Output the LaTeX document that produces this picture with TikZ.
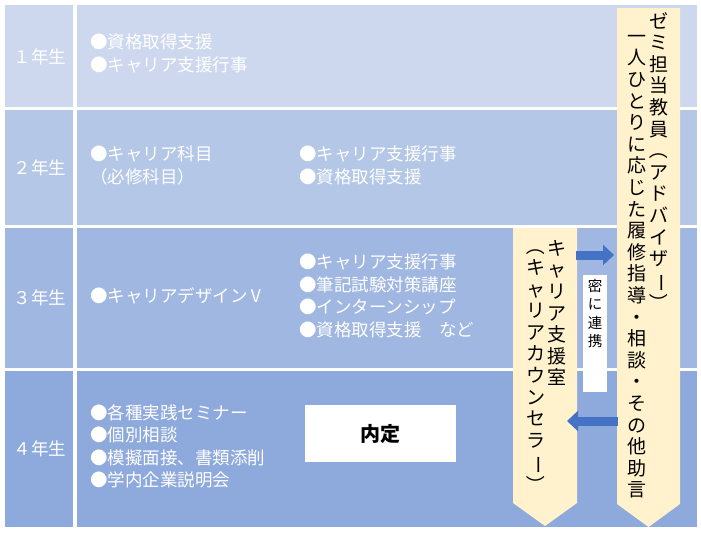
\documentclass[tikz,border=0pt]{standalone}
\usepackage{fontspec}
\setmainfont{Noto Sans CJK JP}
\newcommand{\vp}{\rotatebox[origin=c]{-90}{（}}
\newcommand{\vq}{\rotatebox[origin=c]{-90}{）}}
\newcommand{\vb}{\rotatebox[origin=c]{-90}{ー}}
\tikzset{
  lab/.style={text=white,font=\fontsize{17.5}{22.5}\selectfont,anchor=north west,align=left,inner sep=0pt},
  yr/.style={text=white,font=\fontsize{17.5}{20}\selectfont},
  vtext/.style={font=\fontsize{19}{21.6}\selectfont,align=center,anchor=north,inner sep=0pt,text width=20pt},
  barrow/.style={draw=arrc,line width=9pt,-{Triangle[length=11pt,width=20pt]}},
}
\usetikzlibrary{arrows.meta}
\definecolor{r1}{HTML}{CDD8EF}
\definecolor{r2}{HTML}{B4C7E7}
\definecolor{r3}{HTML}{A0B7E1}
\definecolor{r4}{HTML}{8EA9DB}
\definecolor{bannerc}{HTML}{FFF2CC}
\definecolor{arrc}{HTML}{4472C4}
\begin{document}\begin{tikzpicture}[x=1pt,y=-1pt]
\useasboundingbox (0,0) rectangle (701,533);
\fill[white] (0,0) rectangle (701,533);
\fill[r1] (5,5) rectangle (73,107); \fill[r1] (77,5) rectangle (697,107);
\fill[r2] (5,110) rectangle (73,225); \fill[r2] (77,110) rectangle (697,225);
\fill[r3] (5,228) rectangle (73,368); \fill[r3] (77,228) rectangle (697,368);
\fill[r4] (5,371) rectangle (73,527); \fill[r4] (77,371) rectangle (697,527);
\node[yr] (y1) at (40,57) {１年生};
\node[yr] (y2) at (40,168) {２年生};
\node[yr] (y3) at (40,298) {３年生};
\node[yr] (y4) at (40,449) {４年生};
\node[lab] (t1) at (90,34) {●資格取得支援\\●キャリア支援行事};
\node[lab] (t2) at (90,146) {●キャリア科目\\（必修科目）};
\node[lab] (t2b) at (299,146) {●キャリア支援行事\\●資格取得支援};
\node[lab] (t3) at (90,287) {●キャリアデザインⅤ};
\node[lab] (t3b) at (299,254) {●キャリア支援行事\\●筆記試験対策講座\\●インターンシップ\\●資格取得支援　など};
\node[lab] (t4) at (90,404) {●各種実践セミナー\\●個別相談\\●模擬面接、書類添削\\●学内企業説明会};
\node[fill=white,minimum width=151pt,minimum height=57pt,font=\fontsize{20}{22}\selectfont\bfseries] (nai) at (380.5,433.5) {内定};
\fill[bannerc] (513,228) -- (577,228) -- (577,503) -- (545,526) -- (513,503) -- cycle;
\fill[bannerc] (617,8) -- (680,8) -- (680,504) -- (648.5,527) -- (617,504) -- cycle;
\node[vtext] (c1) at (659,12) {ゼ\\ミ\\担\\当\\教\\員\\\vp\\ア\\ド\\バ\\イ\\ザ\\\vb\\\vq};
\node[vtext] (c2) at (637,35) {一\\人\\ひ\\と\\り\\に\\応\\じ\\た\\履\\修\\指\\導\\・\\相\\談\\・\\そ\\の\\他\\助\\言};
\node[vtext] (k1) at (557,240) {キ\\ャ\\リ\\ア\\支\\援\\室};
\node[vtext] (k2) at (536,236) {\vp\\キ\\ャ\\リ\\ア\\カ\\ウ\\ン\\セ\\ラ\\\vb\\\vq};
\coordinate (a1s) at (576,255); \coordinate (a1e) at (614,255);
\coordinate (a2s) at (618,421); \coordinate (a2e) at (567,421);
\draw[barrow] (a1s) -- (a1e);
\draw[barrow] (a2s) -- (a2e);
\node[fill=white,minimum width=24pt,minimum height=117pt,inner sep=0pt] (mitsu) at (595,333.5) {};
\node[font=\fontsize{14.5}{18.5}\selectfont,align=center,anchor=north,inner sep=0pt] (mt) at (595,279) {密\\に\\連\\携};
\end{tikzpicture}\end{document}
